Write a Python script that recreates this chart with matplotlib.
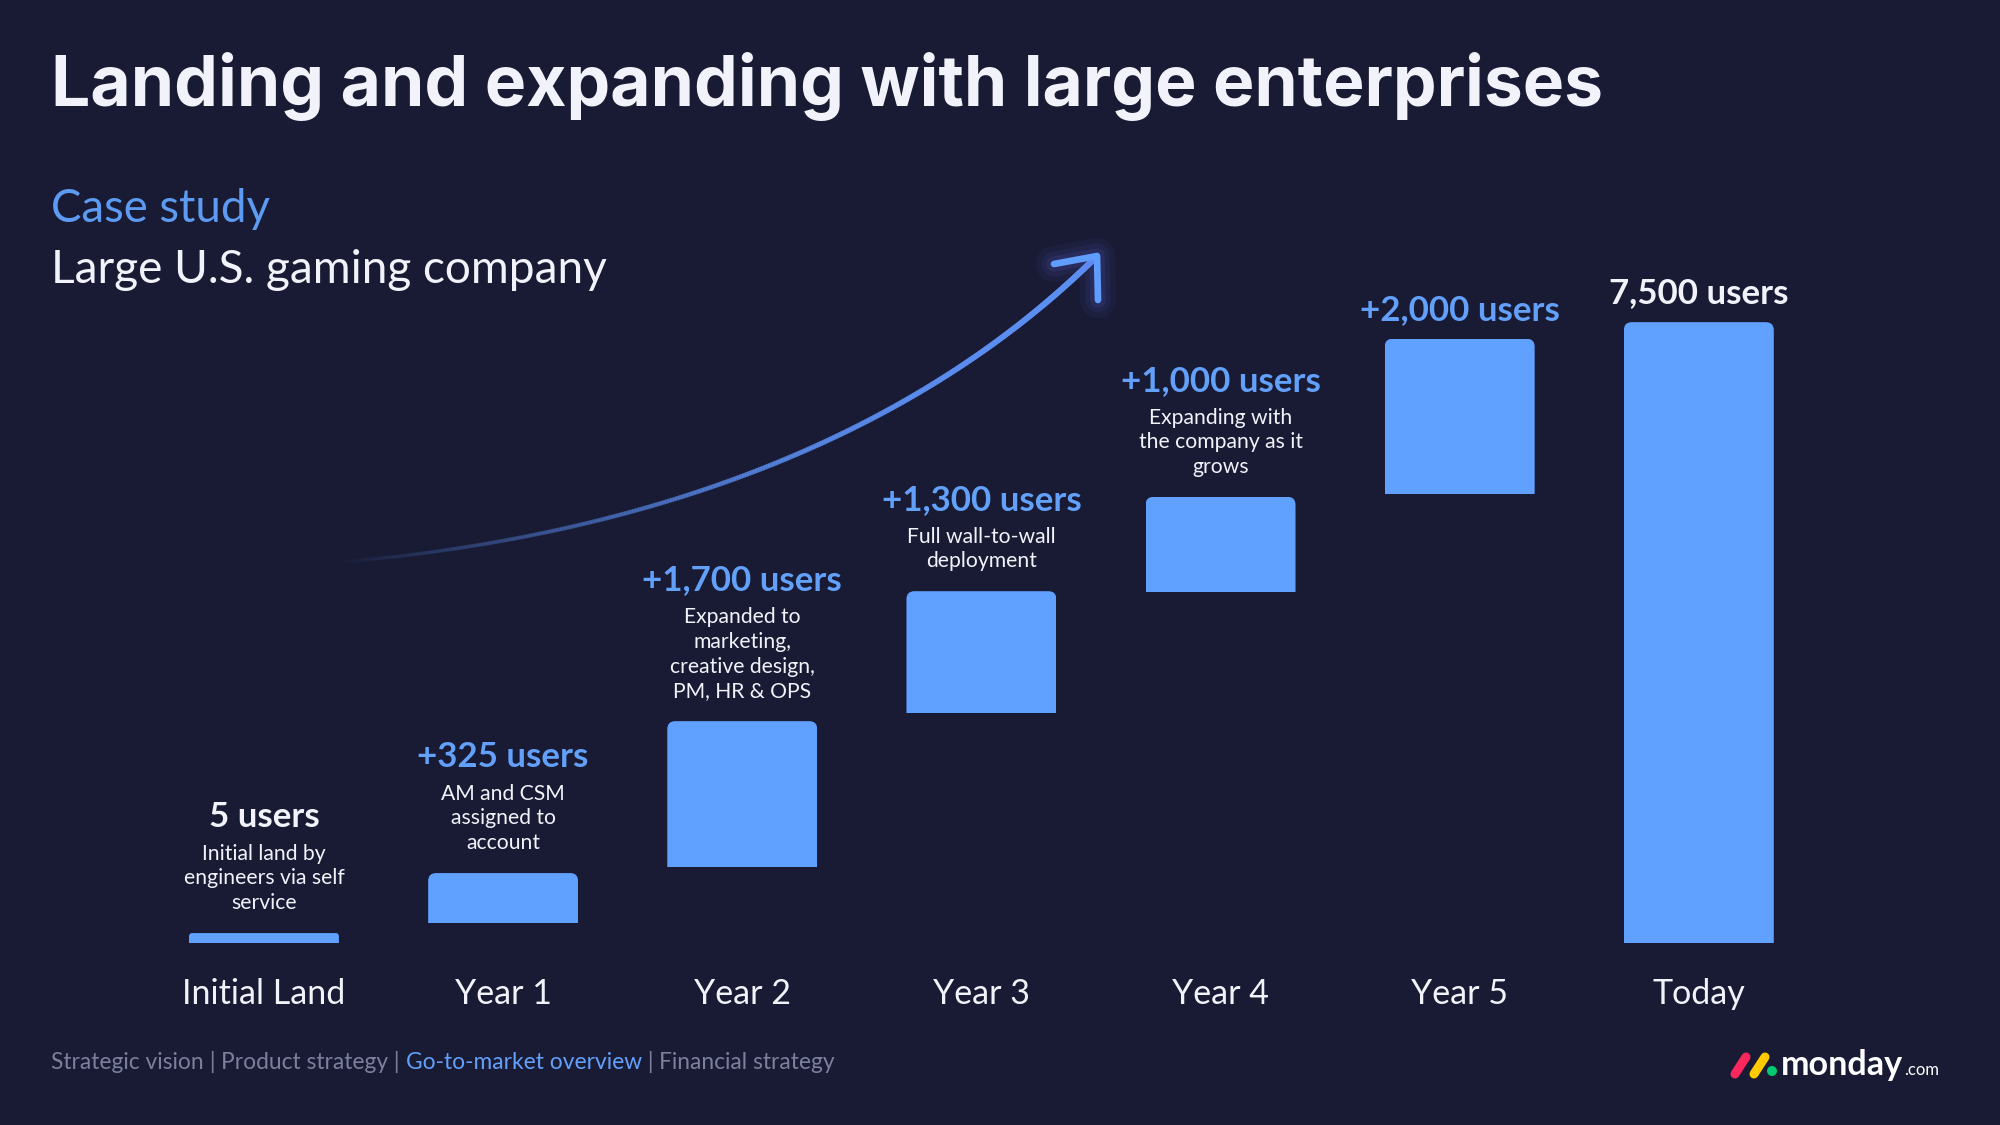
import matplotlib
matplotlib.use("Agg")
import matplotlib.pyplot as plt
from matplotlib.patches import FancyBboxPatch, Circle
from matplotlib.collections import LineCollection
import numpy as np

# ---------------- data ----------------
categories = ["Initial Land", "Year 1", "Year 2", "Year 3", "Year 4", "Year 5", "Today"]
bar_bottom = [0, 240, 920, 2780, 4240, 5430, 0]
bar_top = [120, 845, 2680, 4250, 5390, 7300, 7500]
value_labels = ["5 users", "+325 users", "+1,700 users", "+1,300 users",
                "+1,000 users", "+2,000 users", "7,500 users"]
label_is_total = [True, False, False, False, False, False, True]
descriptions = ["Initial land by\nengineers via self\nservice",
                "AM and CSM\nassigned to\naccount",
                "Expanded to\nmarketing,\ncreative design,\nPM, HR & OPS",
                "Full wall-to-wall\ndeployment",
                "Expanding with\nthe company as it\ngrows",
                "", ""]
footer_items = ["Strategic vision", "Product strategy", "Go-to-market overview", "Financial strategy"]
footer_active = 2
title = "Landing and expanding with large enterprises"
kicker = "Case study"
subtitle = "Large U.S. gaming company"

# ---------------- style ----------------
BG = "#191b34"
BAR = "#60a0ff"
BLUE_TXT = "#62a0fa"
WHITE = "#f2f3fa"
GRAY = "#7c809c"
W, H = 2000, 1125

fig = plt.figure(figsize=(20, 11.25), dpi=100, facecolor=BG)
renderer = fig.canvas.get_renderer()


def fx(px):
    return px / W


def fy(py):
    return 1 - py / H


def fit(t, target):
    w = t.get_window_extent(renderer).width
    t.set_fontsize(t.get_fontsize() * target / w)
    return t.get_fontsize()


# ---------------- main axes ----------------
ax_left, ax_w = 144.4, 1674.0
ax_bot, ax_h = 182.0, 745.0
ax = fig.add_axes([ax_left / W, ax_bot / H, ax_w / W, ax_h / H])
ax.set_facecolor("none")
ax.set_xlim(-0.5, len(categories) - 0.5)
ax.set_ylim(0, 9000)
for s in ax.spines.values():
    s.set_visible(False)
ax.set_yticks([])

x = np.arange(len(categories))
heights = [t - b for t, b in zip(bar_top, bar_bottom)]
bars = ax.bar(x, heights, bottom=bar_bottom, width=0.627, color=BAR, zorder=2, linewidth=0)

px_x = ax_w / (len(categories))
px_y = ax_h / 9000
aspect = px_x / px_y
for b in bars:
    x0, y0, w, h = b.get_x(), b.get_y(), b.get_width(), b.get_height()
    r_px = min(8.0, h * px_y * 0.35)
    ext = 20 / px_y
    clip = FancyBboxPatch((x0, y0 - ext), w, h + ext,
                          boxstyle=f"round,pad=0,rounding_size={r_px / px_x}",
                          mutation_aspect=aspect, transform=ax.transData)
    b.set_clip_path(clip)

# category labels
ax.set_xticks(x)
ax.set_xticklabels(categories)
ax.tick_params(axis="x", length=0, pad=61 * 0.72, colors=WHITE)
probe = fig.text(0, 0, "Initial Land", fontsize=24, family="Lato")
cat_fs = fit(probe, 163)
probe.remove()
for lbl in ax.get_xticklabels():
    lbl.set_fontsize(cat_fs)
    lbl.set_family("Lato")
    lbl.set_color(WHITE)
    lbl.set_va("baseline")

# value labels and descriptions
probe = fig.text(0, 0, "+1,300 users", fontsize=24, family="Lato", weight="bold")
val_fs = fit(probe, 200)
probe.remove()
probe = fig.text(0, 0, "Full wall-to-wall", fontsize=15, family="Lato")
desc_fs = fit(probe, 149)
probe.remove()

for i in range(len(categories)):
    top = bar_top[i]
    lines = descriptions[i].split("\n") if descriptions[i] else []
    n = len(lines)
    for k, line in enumerate(reversed(lines)):
        ax.annotate(line, xy=(i, top), xytext=(0, 30 + k * 24.6), textcoords="offset pixels",
                    ha="center", va="center", fontsize=desc_fs, color=WHITE, family="Lato")
    off = 30 + (n - 1) * 24.6 + 27 if n else 19
    ax.annotate(value_labels[i], xy=(i, top), xytext=(0, off), textcoords="offset pixels",
                ha="center", va="baseline", fontsize=val_fs, weight="bold", family="Lato",
                color=WHITE if label_is_total[i] else BLUE_TXT)

# ---------------- titles ----------------
t = fig.text(fx(51), fy(106), title, fontsize=50, family="Inter", weight="bold",
             color=WHITE, va="baseline", ha="left")
fit(t, 1552)
t = fig.text(fx(51), fy(222), kicker, fontsize=28, family="Lato", weight="normal",
             color="#5d9bf2", va="baseline", ha="left")
fit(t, 219)
t = fig.text(fx(51), fy(283), subtitle, fontsize=28, family="Lato", weight="normal",
             color=WHITE, va="baseline", ha="left")
fit(t, 556)

# ---------------- footer ----------------
def build_footer(fs):
    arts = []
    xpos = 51
    for j, item in enumerate(footer_items):
        pieces = [(item, BLUE_TXT if j == footer_active else GRAY)]
        if j < len(footer_items) - 1:
            pieces.append((" | ", GRAY))
        for txt, col in pieces:
            a = fig.text(fx(xpos), fy(1069), txt, fontsize=fs, family="Lato",
                         color=col, va="baseline", ha="left")
            wpx = a.get_window_extent(renderer).width
            arts.append(a)
            xpos += wpx
    return arts, xpos - 51

arts, tot = build_footer(15)
for a in arts:
    a.remove()
arts, tot = build_footer(15 * 784 / tot)

# ---------------- overlay: arrow + logo ----------------
ov = fig.add_axes([0, 0, 1, 1])
ov.set_xlim(0, W)
ov.set_ylim(H, 0)
ov.axis("off")
ov.patch.set_alpha(0)

P = np.array([[330, 563], [620, 540], [900, 450], [1095, 258]], dtype=float)
tt = np.linspace(0, 1, 300)[:, None]
curve = ((1 - tt) ** 3) * P[0] + 3 * ((1 - tt) ** 2) * tt * P[1] + 3 * (1 - tt) * tt ** 2 * P[2] + tt ** 3 * P[3]
segs = np.stack([curve[:-1], curve[1:]], axis=1)
tm = tt[:-1, 0]
base = np.array([0.36, 0.56, 0.95])
cols = np.zeros((len(tm), 4))
cols[:, :3] = base
cols[:, 3] = np.clip(tm ** 1.0, 0, 1)
lws = 2.5 + 2.0 * tm
ov.add_collection(LineCollection(segs, colors=cols, linewidths=lws, capstyle="round"))
# glow near head
for lw, al in [(26, 0.05), (18, 0.07), (11, 0.1)]:
    ov.plot([1054, 1097, 1098], [264, 256, 300], color="#6f7dff", lw=lw, alpha=al,
            solid_capstyle="round", solid_joinstyle="round")
ov.plot([1054, 1097, 1098], [264, 256, 300], color="#5f9dff", lw=4.8,
        solid_capstyle="round", solid_joinstyle="round")

# logo
ov.plot([1735, 1746], [1074, 1057], color="#fb275d", lw=6.5, solid_capstyle="round")
ov.plot([1754, 1765], [1074, 1057], color="#ffcb00", lw=6.5, solid_capstyle="round")
ov.add_patch(Circle((1772, 1071), 4.3, color="#00ca72"))
lg = fig.text(fx(1781), fy(1075), "monday", fontsize=22, family="Lato", weight="bold",
              color="white", va="baseline", ha="left")
fit(lg, 122)
fig.text(fx(1904), fy(1075), ".com", fontsize=12, family="Lato",
         color="white", va="baseline", ha="left")

fig.savefig("out.png", dpi=100, facecolor=BG)
